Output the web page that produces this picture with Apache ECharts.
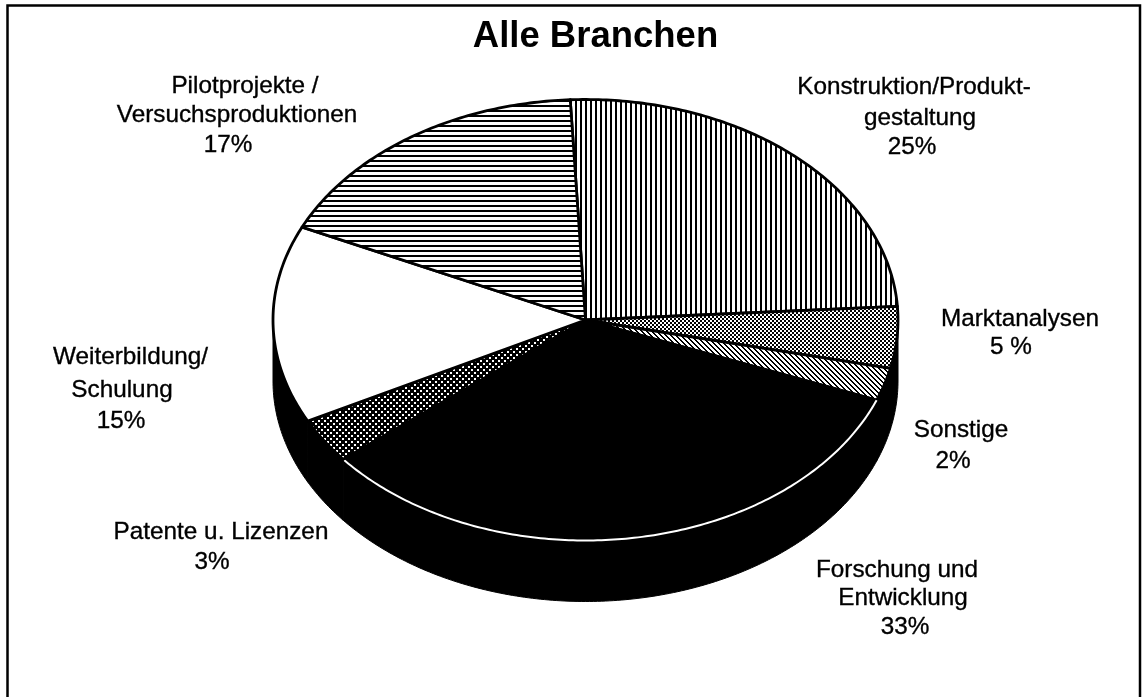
<!DOCTYPE html>
<html>
<head>
<meta charset="utf-8">
<style>html,body{margin:0;padding:0;background:#fff}#c{width:1142px;height:697px}</style>
<script src="https://cdn.jsdelivr.net/npm/echarts@6/dist/echarts.min.js"></script>
</head>
<body>
<div id="c"></div>
<script>
// ---- data ----
var categories = ['Konstruktion/Produkt-\ngestaltung','Marktanalysen','Sonstige','Forschung und\nEntwicklung','Patente u. Lizenzen','Weiterbildung/\nSchulung','Pilotprojekte /\nVersuchsproduktionen'];
var percentLabels = ['25%','5 %','2%','33%','3%','15%','17%'];
var shares = [24.8,4.5,2.4,33.2,3.3,14.5,17.3];
var titleText = 'Alle Branchen';

// ---- layout and style ----
var PIE = {cx:585.5, cy:320, rx:312.5, ry:220.5, depth:61, startDeg:-2.8};
// centre of each text line of each label
var LABEL_LINES = [
  [[914,87],[920,118],[912,147]],
  [[1020,319],[1011,347]],
  [[961,430],[953,461]],
  [[897,570],[903,598],[905,627]],
  [[221,532],[212,562]],
  [[130.5,357],[122,390],[121,421]],
  [[245,86],[237,115],[228,145]]
];
var FONT = '"Liberation Sans", Arial, sans-serif';

function tile(w,h,bg,fg,draw){
  var c=document.createElement('canvas');c.width=w;c.height=h;
  var g=c.getContext('2d');g.fillStyle=bg;g.fillRect(0,0,w,h);g.fillStyle=fg;draw(g);
  return {image:c,repeat:'repeat'};
}
var fills = [
  tile(5,5,'#fff','#000',function(g){g.fillRect(0,0,2,5);}),
  tile(4,4,'#fff','#000',function(g){g.fillRect(0,0,2,2);g.fillRect(2,2,2,2);}),
  tile(5,5,'#fff','#000',function(g){for(var i=0;i<5;i++){g.fillRect(i,i,1,1);g.fillRect((i+1)%5,i,1,1);}}),
  '#000',
  tile(6,6,'#000','#fff',function(g){g.fillRect(0,0,2,2);g.fillRect(3,3,2,2);}),
  '#fff',
  tile(5,5,'#fff','#000',function(g){g.fillRect(0,0,5,2);})
];

var total = shares.reduce(function(a,b){return a+b;},0);
function pt(deg,drop){
  var t=deg*Math.PI/180;
  return [PIE.cx+PIE.rx*Math.sin(t), PIE.cy-PIE.ry*Math.cos(t)+(drop||0)];
}
function arc(a,b,drop){
  var n=Math.max(2,Math.ceil(Math.abs(b-a)/0.75)),out=[];
  for(var i=0;i<=n;i++){out.push(pt(a+(b-a)*i/n,drop));}
  return out;
}
function renderItem(params,api){
  var i=params.dataIndex, before=0;
  for(var k=0;k<i;k++){before+=shares[k];}
  var a=PIE.startDeg+before/total*360;
  var b=a+api.value(0)/total*360;
  var children=[];
  // visible front wall: the part of the rim between 90deg and 270deg
  var wa=Math.max(a,90), wb=Math.min(b,270);
  if(wb>wa){
    children.push({type:'polygon',shape:{points:arc(wa,wb,0).concat(arc(wb,wa,PIE.depth))},
      style:{fill:'#000',stroke:'#000',lineWidth:1}});
  }
  // top face
  children.push({type:'polygon',shape:{points:[[PIE.cx,PIE.cy]].concat(arc(a,b,0))},
    style:{fill:fills[i],stroke:'#000',lineWidth:2.8,lineJoin:'round'}});
  // black slice shows its rim as a white line against the black wall
  if(fills[i]==='#000'){
    children.push({type:'polyline',shape:{points:arc(a,b,0)},style:{fill:null,stroke:'#fff',lineWidth:2}});
  }
  // label, one text per line
  var lines=(categories[i]+'\n'+percentLabels[i]).split('\n');
  lines.forEach(function(line,j){
    children.push({type:'text',x:LABEL_LINES[i][j][0],y:LABEL_LINES[i][j][1],
      style:{text:line,font:'24.3px '+FONT,fill:'#000',stroke:'#000',lineWidth:0.35,align:'center',verticalAlign:'middle'}});
  });
  return {type:'group',children:children};
}

var chart=echarts.init(document.getElementById('c'),null,{renderer:'canvas'});
chart.setOption({
  animation:false,
  backgroundColor:'#fff',
  title:{text:titleText,left:590.5,top:13,textAlign:'center',textStyle:{fontFamily:FONT,fontSize:36.5,fontWeight:'bold',color:'#000'}},
  graphic:[{type:'polyline',z:-1,silent:true,shape:{points:[[7.5,700],[7.5,5.5],[1140,5.5],[1140,700]]},style:{fill:null,stroke:'#000',lineWidth:2.5}}],
  series:[{type:'custom',coordinateSystem:'none',renderItem:renderItem,silent:true,
    data:shares.map(function(v,i){return {name:categories[i],value:[v]};})}]
});
</script>
</body>
</html>
